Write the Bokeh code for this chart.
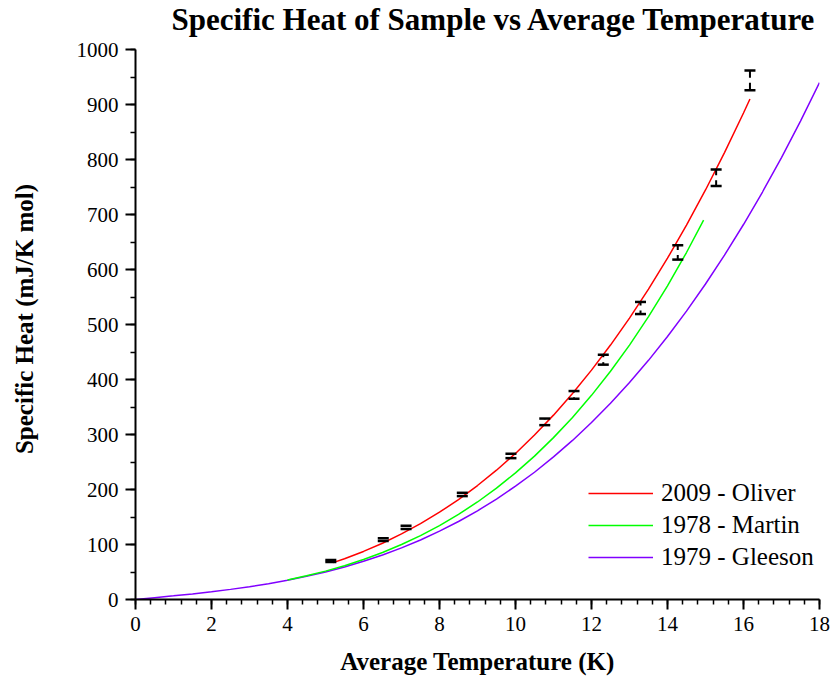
from bokeh.plotting import figure
from bokeh.models import Range1d, Legend, LegendItem, SingleIntervalTicker
from bokeh.embed import file_html
from bokeh.resources import INLINE

# ---- data ----
gleeson_T = [0, 0.5, 1, 1.5, 2, 2.5, 3, 3.5, 4, 4.5, 5, 5.5, 6, 6.5, 7, 7.5, 8, 8.5, 9, 9.5,
             10, 10.5, 11, 11.5, 12, 12.5, 13, 13.5, 14, 14.5, 15, 15.5, 16, 16.5, 17, 17.5, 18]
gleeson_C = [0, 3.3, 6.6, 10.2, 14.1, 18.4, 23.3, 28.8, 35.0, 42.1, 50.1, 59.2, 69.4, 80.9,
             93.8, 108.2, 124.2, 141.8, 161.3, 182.7, 206.0, 231.4, 259.2, 289.2, 321.7, 356.7,
             394.4, 434.8, 478.1, 524.3, 573.6, 626.0, 681.8, 740.9, 803.5, 869.8, 939.7]

martin_T = [4, 4.5, 5, 5.5, 6, 6.5, 7, 7.5, 8, 8.5, 9, 9.5, 10, 10.5, 11, 11.5, 12, 12.5,
            13, 13.5, 14, 14.5, 14.95]
martin_C = [35.5, 43.1, 51.6, 61.5, 72.8, 85.5, 100.0, 116.2, 134.4, 154.8, 177.3, 202.5,
            230.2, 260.7, 294.3, 331.0, 371.2, 415.1, 462.6, 514.4, 570.4, 630.9, 689.6]

oliver_T = [5.2, 5.5, 6, 6.5, 7, 7.5, 8, 8.5, 9, 9.5, 10, 10.5, 11, 11.5, 12, 12.5, 13, 13.5,
            14, 14.5, 15, 15.5, 16, 16.17]
oliver_C = [67.0, 74.2, 87.4, 102.3, 119.2, 137.8, 158.7, 181.7, 207.2, 235.1, 265.6, 299.0,
            335.2, 374.5, 417.0, 462.6, 511.7, 564.3, 620.5, 680.7, 744.6, 812.6, 884.6, 910.0]

meas_T = [5.14, 6.52, 7.12, 8.60, 9.88, 10.77, 11.54, 12.31, 13.29, 14.27, 15.28, 16.17]
meas_C = [70, 109, 131, 191, 261, 323, 372, 436, 530, 631, 767, 944]
meas_err = [2, 2.5, 3, 3, 4, 6, 7, 9, 11, 13, 15, 18]

legend_labels = ["2009 - Oliver", "1978 - Martin", "1979 - Gleeson"]
title_text = "Specific Heat of Sample vs Average Temperature"

x_ticks_interval = 2
y_ticks_interval = 100
x_axis_range = (0, 18)
y_axis_range = (0, 1000)

SERIF_B = "Liberation Serif"
SERIF = "Liberation Serif, Times New Roman, Times, serif"

# frame spans 38..599 px vertically; y axis drawn only over 0..1000 (top at 49 px)
frame_top_extra = 20  # data units of empty space above the 1000 line, room for the title

p = figure(width=834, height=685, output_backend="svg", toolbar_location=None,
           x_range=Range1d(*x_axis_range),
           y_range=Range1d(y_axis_range[0], y_axis_range[1] + frame_top_extra),
           min_border_left=135, min_border_right=15, min_border_top=38, min_border_bottom=86,
           title=title_text)

p.title.text_font = SERIF_B
p.title.text_font_size = "31px"
p.title.text_font_style = "bold"
p.title.text_color = "black"
p.title.align = "left"
p.title.offset = 36
p.title.vertical_align = "top"
p.title.standoff = 0

p.outline_line_color = None
p.xgrid.visible = False
p.ygrid.visible = False
p.background_fill_color = "white"

p.xaxis.ticker = SingleIntervalTicker(interval=x_ticks_interval, num_minor_ticks=5)
p.yaxis.ticker = SingleIntervalTicker(interval=y_ticks_interval, num_minor_ticks=2)
p.yaxis.bounds = y_axis_range

for ax in (p.xaxis[0], p.yaxis[0]):
    ax.axis_line_width = 2
    ax.axis_line_color = "black"
    ax.major_tick_line_width = 2
    ax.minor_tick_line_width = 1.5
    ax.major_tick_out = 10
    ax.major_tick_in = 0
    ax.minor_tick_out = 5
    ax.minor_tick_in = 0
    ax.major_label_text_font = SERIF
    ax.major_label_text_font_size = "21px"
    ax.major_label_text_color = "black"
    ax.axis_label_text_font = SERIF_B
    ax.axis_label_text_font_size = "25px"
    ax.axis_label_text_font_style = "bold"
    ax.axis_label_text_color = "black"
    ax.major_label_standoff = 7

p.xaxis.axis_label = "Average Temperature (K)"
p.yaxis.axis_label = "Specific Heat (mJ/K mol)"
p.xaxis.axis_label_standoff = 14
p.yaxis.axis_label_standoff = 36

r_g = p.line(gleeson_T, gleeson_C, line_color="#8000ff", line_width=1.5)
r_m = p.line(martin_T, martin_C, line_color="#00ff00", line_width=1.5)
r_o = p.line(oliver_T, oliver_C, line_color="#ff0000", line_width=1.5)

# error bars (with a small gap at the data point, as in the reference)
gap = 4.5
up0, up1, lo0, lo1, sx = [], [], [], [], []
for t, c, e in zip(meas_T, meas_C, meas_err):
    if e > gap:
        sx.append(t)
        up0.append(c + gap)
        up1.append(c + e)
        lo0.append(c - e)
        lo1.append(c - gap)
p.segment(x0=sx, y0=up0, x1=sx, y1=up1, line_color="black", line_width=2)
p.segment(x0=sx, y0=lo0, x1=sx, y1=lo1, line_color="black", line_width=2)
caps_x = meas_T + meas_T
caps_y = [c + e for c, e in zip(meas_C, meas_err)] + [c - e for c, e in zip(meas_C, meas_err)]
p.scatter(caps_x, caps_y, marker="dash", size=11, line_color="black", line_width=2.5)

legend = Legend(items=[
    LegendItem(label=legend_labels[0], renderers=[r_o]),
    LegendItem(label=legend_labels[1], renderers=[r_m]),
    LegendItem(label=legend_labels[2], renderers=[r_g]),
], location=(453, 26))
legend.glyph_width = 65
legend.glyph_height = 32
legend.label_standoff = 8
legend.spacing = 0
legend.padding = 0
legend.margin = 0
legend.border_line_color = None
legend.background_fill_alpha = 0
legend.label_text_font = SERIF
legend.label_text_font_size = "25px"
legend.label_text_color = "black"
legend.label_height = 32
p.add_layout(legend, "center")

open("out.html", "w").write(file_html(p, INLINE))
